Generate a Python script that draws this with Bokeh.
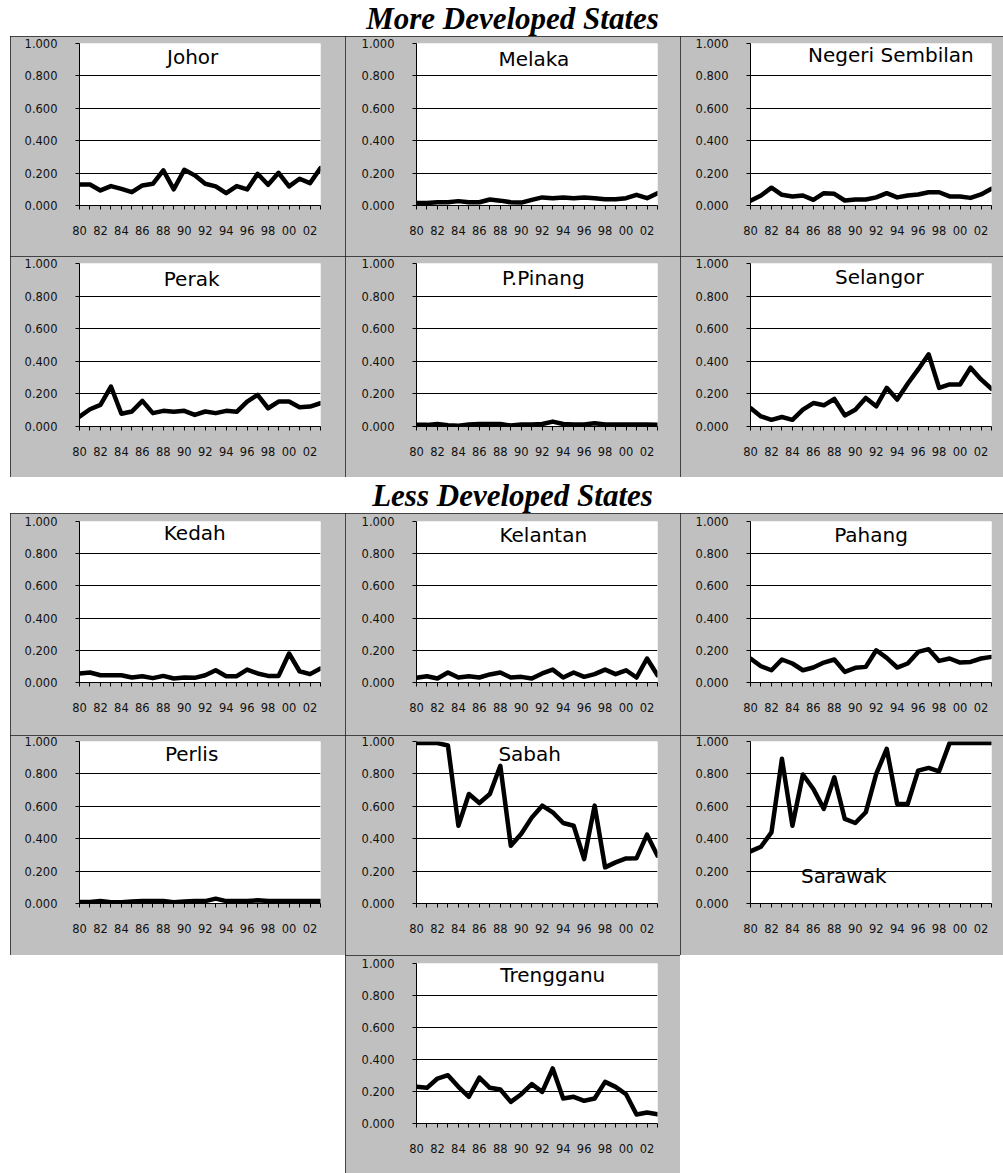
from bokeh.plotting import figure
from bokeh.models import Range1d, FixedTicker, NumeralTickFormatter, Label, ColumnDataSource, Spacer
from bokeh.layouts import row, column
from bokeh.embed import file_html
from bokeh.resources import INLINE

# ---- data -------------------------------------------------------------
years = list(range(1980, 2004))
tick_years = list(range(1980, 2003, 2))
tick_labels = ["80", "82", "84", "86", "88", "90", "92", "94", "96", "98", "00", "02"]
y_ticks = [0.0, 0.2, 0.4, 0.6, 0.8, 1.0]

johor = [0.13, 0.13, 0.093, 0.12, 0.103, 0.082, 0.124, 0.134, 0.217, 0.10, 0.22, 0.186,
         0.134, 0.118, 0.076, 0.12, 0.099, 0.196, 0.128, 0.202, 0.118, 0.165, 0.138, 0.231]
melaka = [0.016, 0.015, 0.02, 0.02, 0.027, 0.02, 0.02, 0.037, 0.03, 0.02, 0.018, 0.035,
          0.05, 0.045, 0.05, 0.045, 0.05, 0.045, 0.038, 0.038, 0.045, 0.066, 0.045, 0.076]
negeri_sembilan = [0.03, 0.062, 0.11, 0.066, 0.056, 0.062, 0.035, 0.076, 0.072, 0.031, 0.037, 0.037,
                   0.05, 0.076, 0.05, 0.062, 0.068, 0.082, 0.082, 0.056, 0.056, 0.047, 0.068, 0.103]
perak = [0.061, 0.106, 0.133, 0.245, 0.078, 0.092, 0.157, 0.082, 0.096, 0.09, 0.096, 0.071,
         0.092, 0.082, 0.096, 0.09, 0.153, 0.194, 0.112, 0.153, 0.153, 0.118, 0.122, 0.143]
p_pinang = [0.01, 0.01, 0.015, 0.008, 0.005, 0.012, 0.015, 0.015, 0.015, 0.006, 0.012, 0.012,
            0.015, 0.03, 0.015, 0.012, 0.012, 0.02, 0.012, 0.012, 0.012, 0.012, 0.012, 0.01]
selangor = [0.113, 0.062, 0.041, 0.058, 0.041, 0.103, 0.144, 0.13, 0.169, 0.068, 0.103, 0.175,
            0.124, 0.237, 0.165, 0.262, 0.35, 0.443, 0.237, 0.258, 0.258, 0.361, 0.289, 0.231]
kedah = [0.056, 0.062, 0.045, 0.045, 0.045, 0.031, 0.039, 0.027, 0.041, 0.025, 0.031, 0.029,
         0.045, 0.076, 0.039, 0.039, 0.08, 0.056, 0.041, 0.041, 0.18, 0.07, 0.052, 0.087]
kelantan = [0.029, 0.039, 0.025, 0.062, 0.031, 0.039, 0.031, 0.05, 0.062, 0.031, 0.035, 0.025,
            0.056, 0.08, 0.031, 0.062, 0.035, 0.052, 0.08, 0.052, 0.076, 0.031, 0.149, 0.045]
pahang = [0.149, 0.101, 0.076, 0.143, 0.118, 0.076, 0.093, 0.124, 0.143, 0.066, 0.091, 0.097,
          0.20, 0.153, 0.093, 0.118, 0.19, 0.207, 0.134, 0.149, 0.124, 0.128, 0.149, 0.159]
perlis = [0.01, 0.01, 0.015, 0.008, 0.008, 0.012, 0.015, 0.015, 0.015, 0.008, 0.012, 0.015,
          0.015, 0.03, 0.015, 0.015, 0.015, 0.02, 0.015, 0.015, 0.015, 0.015, 0.015, 0.015]
sabah = [0.99, 0.99, 0.99, 0.975, 0.48, 0.676, 0.62, 0.676, 0.85, 0.357, 0.43, 0.53,
         0.604, 0.563, 0.497, 0.48, 0.274, 0.604, 0.223, 0.254, 0.278, 0.28, 0.425, 0.295]
sarawak = [0.322, 0.35, 0.439, 0.893, 0.48, 0.796, 0.707, 0.584, 0.779, 0.522, 0.497, 0.563,
           0.80, 0.955, 0.614, 0.614, 0.82, 0.837, 0.816, 0.99, 0.99, 0.99, 0.99, 0.99]
trengganu = [0.229, 0.223, 0.281, 0.302, 0.229, 0.167, 0.287, 0.223, 0.212, 0.135, 0.183, 0.246,
             0.198, 0.344, 0.156, 0.167, 0.142, 0.156, 0.26, 0.229, 0.183, 0.056, 0.069, 0.058]

source = ColumnDataSource(dict(
    year=years, johor=johor, melaka=melaka, negeri_sembilan=negeri_sembilan, perak=perak,
    p_pinang=p_pinang, selangor=selangor, kedah=kedah, kelantan=kelantan, pahang=pahang,
    perlis=perlis, sabah=sabah, sarawak=sarawak, trengganu=trengganu,
))

# ---- styling -----------------------------------------------------------
GRAY = "#c0c0c0"
INK = "#111111"
TICK_FONT = "DejaVu Sans"
PLOT_W = 241
COL_W = [335, 335, 323]
COL_LEFT = [69, 71, 70]


def panel(name, column_name, col, height, top, plot_h, label_at):
    width = COL_W[col]
    left = COL_LEFT[col]
    right = width - left - PLOT_W
    bottom = height - top - plot_h
    p = figure(width=width, height=height,
               x_range=Range1d(1980, 2003), y_range=Range1d(0, 1),
               output_backend="svg", toolbar_location=None,
               min_border_left=left, min_border_right=right,
               min_border_top=top, min_border_bottom=bottom,
               background_fill_color="white", border_fill_color=GRAY,
               outline_line_color=None,
               styles={"outline": "1px solid #1a1a1a", "outline-offset": "-1px"})

    # x axis: a tick every year, a label every second year
    xa = p.xaxis[0]
    xa.ticker = FixedTicker(ticks=tick_years, minor_ticks=[y for y in years if y not in tick_years])
    xa.major_label_overrides = {y: lab for y, lab in zip(tick_years, tick_labels)}
    xa.major_tick_in = 0
    xa.major_tick_out = 4
    xa.minor_tick_in = 0
    xa.minor_tick_out = 4
    xa.minor_tick_line_color = "black"
    xa.major_label_standoff = 16

    ya = p.yaxis[0]
    ya.ticker = FixedTicker(ticks=y_ticks)
    ya.formatter = NumeralTickFormatter(format="0.000")
    ya.major_tick_in = 0
    ya.major_tick_out = 4
    ya.minor_tick_line_color = None
    ya.major_label_standoff = 18

    for ax in (xa, ya):
        ax.axis_line_color = "black"
        ax.axis_line_width = 1
        ax.major_tick_line_color = "black"
        ax.major_label_text_font = TICK_FONT
        ax.major_label_text_font_size = "11.5px"
        ax.major_label_text_color = INK

    p.xgrid.visible = False
    p.ygrid.ticker = FixedTicker(ticks=[0.2, 0.4, 0.6, 0.8])
    p.ygrid.grid_line_color = "black"
    p.ygrid.grid_line_width = 1

    p.line(x="year", y=column_name, source=source, line_color="black",
           line_width=4.5, line_join="round", line_cap="round")

    lx, ly = label_at
    p.add_layout(Label(x=lx, y=ly, text=name, text_align="center", text_baseline="middle",
                       text_font="DejaVu Sans", text_font_size="20px", text_color="black"))
    return p


def heading(text):
    h = figure(width=1003, height=36, x_range=Range1d(0, 1003), y_range=Range1d(0, 36),
               output_backend="svg", toolbar_location=None,
               min_border_left=0, min_border_right=0, min_border_top=0, min_border_bottom=0,
               background_fill_color="white", border_fill_color="white",
               outline_line_color=None)
    h.xaxis.visible = False
    h.yaxis.visible = False
    h.grid.visible = False
    h.add_layout(Label(x=512, y=18, text=text, text_align="center", text_baseline="middle",
                       text_font="Liberation Serif", text_font_style="bold italic",
                       text_font_size="31px", text_color="black"))
    return h


ROW_H = [220, 221, 222, 220, 218]
ROW_TOP = [7, 7, 8, 6, 8]
ROW_PLOT_H = [162, 163, 161, 162, 160]

# (title, column, grid column, label anchor in data units)
rows_spec = [
    [("Johor", "johor", 0, (1990.8, 0.917)),
     ("Melaka", "melaka", 1, (1991.2, 0.905)),
     ("Negeri Sembilan", "negeri_sembilan", 2, (1993.4, 0.929))],
    [("Perak", "perak", 0, (1990.7, 0.905)),
     ("P.Pinang", "p_pinang", 1, (1992.1, 0.91)),
     ("Selangor", "selangor", 2, (1992.3, 0.918))],
    [("Kedah", "kedah", 0, (1991.0, 0.929)),
     ("Kelantan", "kelantan", 1, (1992.1, 0.915)),
     ("Pahang", "pahang", 2, (1991.5, 0.915))],
    [("Perlis", "perlis", 0, (1990.7, 0.92)),
     ("Sabah", "sabah", 1, (1990.8, 0.923)),
     ("Sarawak", "sarawak", 2, (1988.9, 0.17))],
    [("Trengganu", "trengganu", 1, (1993.0, 0.928))],
]

built_rows = []
for i, spec in enumerate(rows_spec):
    h = ROW_H[i]
    figs = [panel(n, c, col, h, ROW_TOP[i], ROW_PLOT_H[i], at) for n, c, col, at in spec]
    lead = 10 if len(figs) == 3 else 345
    built_rows.append(row(Spacer(width=lead, height=h), *figs, spacing=0))

layout = column(
    heading("More Developed States"),
    built_rows[0],
    built_rows[1],
    heading("Less Developed States"),
    built_rows[2],
    built_rows[3],
    built_rows[4],
    spacing=0,
)

with open("out.html", "w") as f:
    f.write(file_html(layout, INLINE, title="Malaysian states"))
